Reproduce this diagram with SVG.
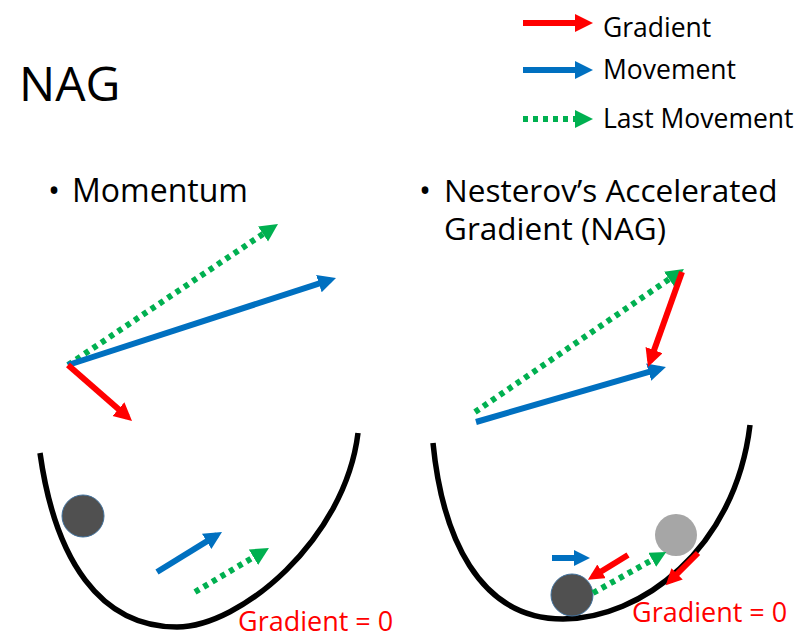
<svg xmlns="http://www.w3.org/2000/svg" width="801" height="633" viewBox="0 0 801 633">
<style>
text{font-family:"Open Sans","Liberation Sans",sans-serif;fill:#000}
.red{stroke:#ff0000;stroke-width:6;fill:none}
.blue{stroke:#0070c0;stroke-width:6;fill:none}
.green{stroke:#00b050;stroke-width:6;fill:none;stroke-dasharray:5 5}
.bowl{stroke:#000;stroke-width:5.5;fill:none}
.g0{fill:#ff0000;font-size:27px}
</style>
<defs>
<marker id="hr" markerUnits="userSpaceOnUse" markerWidth="20" markerHeight="20" refX="12" refY="9" orient="auto"><path d="M0,0 L18,9 L0,18 z" fill="#ff0000"/></marker>
<marker id="hb" markerUnits="userSpaceOnUse" markerWidth="20" markerHeight="20" refX="12" refY="9" orient="auto"><path d="M0,0 L18,9 L0,18 z" fill="#0070c0"/></marker>
<marker id="hg" markerUnits="userSpaceOnUse" markerWidth="20" markerHeight="20" refX="12" refY="9" orient="auto"><path d="M0,0 L18,9 L0,18 z" fill="#00b050"/></marker>
<marker id="hrs" markerUnits="userSpaceOnUse" markerWidth="18" markerHeight="18" refX="10" refY="8" orient="auto"><path d="M0,0 L16,8 L0,16 z" fill="#ff0000"/></marker>
<marker id="hbs" markerUnits="userSpaceOnUse" markerWidth="18" markerHeight="18" refX="10" refY="8" orient="auto"><path d="M0,0 L16,8 L0,16 z" fill="#0070c0"/></marker>
<marker id="hgs" markerUnits="userSpaceOnUse" markerWidth="18" markerHeight="18" refX="10" refY="8" orient="auto"><path d="M0,0 L16,8 L0,16 z" fill="#00b050"/></marker>
</defs>

<g id="title"><text x="19" y="101" font-size="48">NAG</text></g>

<g id="legend">
<line class="red" x1="523" y1="23" x2="587" y2="23" marker-end="url(#hr)"/>
<line class="blue" x1="523" y1="70" x2="587" y2="70" marker-end="url(#hb)"/>
<line class="green" x1="523" y1="119" x2="587" y2="119" marker-end="url(#hg)"/>
<text x="603" y="37" font-size="26.5">Gradient</text>
<text x="603" y="79" font-size="26.5">Movement</text>
<text x="603" y="128" font-size="26.5">Last Movement</text>
</g>

<g id="momentum-label">
<text x="48" y="202" font-size="32">•</text>
<text x="72" y="202" font-size="32">Momentum</text>
</g>
<g id="nag-label">
<text x="419" y="202" font-size="32">•</text>
<text x="444" y="202" font-size="31.5">Nesterov’s Accelerated</text>
<text x="444" y="240" font-size="31.5">Gradient (NAG)</text>
</g>

<g id="left-panel">
<path class="bowl" d="M40,453 C55,560 100,627 177,627 C240,627 345,540 358,433"/>
<circle cx="83" cy="516" r="21" fill="#505050" stroke="#41719c" stroke-width="1"/>
<text class="g0" x="238" y="631">Gradient = 0</text>
</g>

<g id="right-panel">
<path class="bowl" d="M433,443 C442,535 478,619 563,619 C640,619 735,550 750,425"/>
<circle cx="676" cy="535" r="21" fill="#a6a6a6"/>
<circle cx="572" cy="595" r="21" fill="#505050" stroke="#41719c" stroke-width="1"/>
<text class="g0" x="632" y="622">Gradient = 0</text>
</g>

<g id="connectors">
<line class="green" x1="68" y1="365" x2="273" y2="227.3" marker-end="url(#hg)"/>
<line class="blue" x1="68" y1="365" x2="330.3" y2="279.9" marker-end="url(#hb)"/>
<line class="red" x1="68" y1="365" x2="127.5" y2="417" marker-end="url(#hr)"/>

<line class="green" x1="475" y1="412" x2="679" y2="272.4" marker-end="url(#hg)"/>
<line class="blue" x1="476" y1="422" x2="660.2" y2="368.7" marker-end="url(#hb)"/>
<line class="red" x1="682" y1="272" x2="650" y2="361.4" marker-end="url(#hr)"/>

<line class="blue" x1="157" y1="572" x2="216.9" y2="535.1" marker-end="url(#hb)"/>
<line class="green" x1="195" y1="592" x2="263.8" y2="551.1" marker-end="url(#hg)"/>

<line class="blue" x1="552" y1="558" x2="584" y2="558" marker-end="url(#hbs)"/>
<line class="red" x1="628" y1="555" x2="593" y2="576.5" marker-end="url(#hrs)"/>
<line class="green" x1="593" y1="593" x2="661" y2="555" marker-end="url(#hgs)"/>
<line class="red" x1="698" y1="553" x2="670" y2="581" marker-end="url(#hrs)"/>
</g>
</svg>
